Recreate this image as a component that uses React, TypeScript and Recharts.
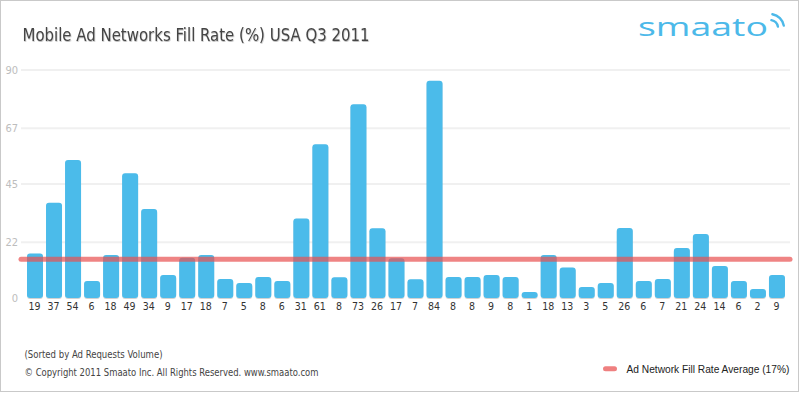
import React from "react";
import { BarChart, Bar, XAxis, YAxis, CartesianGrid, ReferenceLine } from "recharts";

const networkLabels = [
  "19", "37", "54", "6", "18", "49", "34", "9", "17", "18",
  "7", "5", "8", "6", "31", "61", "8", "73", "26", "17",
  "7", "84", "8", "8", "9", "8", "1", "18", "13", "3",
  "5", "26", "6", "7", "21", "24", "14", "6", "2", "9",
];

const fillRates = [
  17.6, 37.6, 54.5, 6.7, 17.0, 49.2, 35.1, 9.1, 15.9, 17.0,
  7.5, 5.9, 8.3, 6.7, 31.4, 60.7, 8.2, 76.5, 27.5, 15.7,
  7.4, 85.8, 8.3, 8.3, 9.1, 8.3, 2.4, 17.0, 12.0, 4.3,
  5.9, 27.6, 6.7, 7.5, 19.7, 25.3, 12.6, 6.7, 3.6, 9.1,
];

const yTicks = [0, 22, 45, 67, 90];
const gridValues = [22, 45, 67, 90];
const averageLine = 15.3;

const data = networkLabels.map((label, i) => ({ label, value: fillRates[i] }));

const NARROW = "'Liberation Sans Narrow', 'DejaVu Sans Condensed', 'Liberation Sans', sans-serif";

const BarShape = (props: any) => {
  const { x, y, width, height } = props;
  if (!height || height <= 0) return null;
  const r = Math.min(3, height / 2);
  return (
    <rect
      x={x}
      y={y}
      width={width}
      height={height}
      rx={r}
      ry={r}
      fill="#4bbbea"
      filter="url(#barShadow)"
    />
  );
};

const AvgLine = (props: any) => {
  const { x1, x2, y1, y2 } = props;
  return (
    <line
      x1={Math.min(x1, x2)}
      x2={Math.max(x1, x2)}
      y1={y1}
      y2={y2}
      stroke="#e85050"
      strokeOpacity={0.7}
      strokeWidth={5}
      strokeLinecap="round"
    />
  );
};

export default function App() {
  return (
    <div
      style={{
        position: "fixed",
        left: 0,
        top: 0,
        width: 800,
        height: 393,
        background: "#fff",
        overflow: "hidden",
      }}
    >
      <svg width={800} height={393} style={{ position: "absolute", left: 0, top: 0 }}>
        <defs>
          <filter id="barShadow" x="-20%" y="-5%" width="140%" height="115%">
            <feDropShadow dx="0" dy="0.8" stdDeviation="0.6" floodColor="#000" floodOpacity="0.22" />
          </filter>
          <filter id="titleShadow" x="-5%" y="-20%" width="110%" height="150%">
            <feDropShadow dx="0.5" dy="1" stdDeviation="0.7" floodColor="#000" floodOpacity="0.25" />
          </filter>
        </defs>
        <rect x={0.5} y={0.5} width={798} height={391} fill="#fff" stroke="#c9c9c9" strokeWidth={1} />
      </svg>
      <div style={{ position: "absolute", left: 0, top: 0 }}>
        <BarChart
          width={800}
          height={393}
          data={data}
          margin={{ top: 70, right: 10, bottom: 0, left: 0 }}
        >
          <CartesianGrid
            vertical={false}
            horizontalValues={gridValues}
            stroke="#f0f0f0"
            strokeWidth={2}
          />
          <XAxis
            dataKey="label"
            height={95}
            padding={{ left: 4, right: 4 }}
            axisLine={false}
            tickLine={false}
            tickSize={0}
            tickMargin={5}
            interval={0}
            tick={{ fontSize: 10.5, fill: "#333", fontFamily: NARROW }}
          />
          <YAxis
            type="number"
            domain={[0, 90]}
            ticks={yTicks}
            width={21}
            axisLine={false}
            tickLine={false}
            tickSize={0}
            tickMargin={3}
            tick={{ fontSize: 11, fill: "#bdbdbd", fontFamily: NARROW }}
          />
          <Bar dataKey="value" barSize={16} shape={<BarShape />} isAnimationActive={false} />
          <ReferenceLine y={averageLine} shape={<AvgLine />} />
        </BarChart>
      </div>
      <svg
        width={800}
        height={393}
        style={{ position: "absolute", left: 0, top: 0, pointerEvents: "none" }}
      >
        <text
          x={22.5}
          y={41}
          fontFamily={NARROW}
          fontSize={18}
          fill="#454545"
          textLength={347}
          lengthAdjust="spacingAndGlyphs"
          filter="url(#titleShadow)"
        >
          Mobile Ad Networks Fill Rate (%) USA Q3 2011
        </text>
        <text
          x={638}
          y={36}
          fontFamily="'Open Sans', Lato, sans-serif"
          fontSize={25}
          fill="#4cb9e9"
          textLength={130}
          lengthAdjust="spacingAndGlyphs"
        >
          smaato
        </text>
        <path
          d="M 771.4 20.1 A 8 8 0 0 1 777.9 26.6"
          fill="none"
          stroke="#4cb9e9"
          strokeWidth={2.4}
          strokeLinecap="round"
        />
        <path
          d="M 772.4 14.2 A 14 14 0 0 1 783.8 25.6"
          fill="none"
          stroke="#4cb9e9"
          strokeWidth={2.4}
          strokeLinecap="round"
        />
        <text x={24.5} y={358} fontFamily={NARROW} fontSize={10.5} fill="#444" textLength={138} lengthAdjust="spacingAndGlyphs">
          (Sorted by Ad Requests Volume)
        </text>
        <text x={24.5} y={376} fontFamily={NARROW} fontSize={10.5} fill="#444" textLength={294} lengthAdjust="spacingAndGlyphs">
          © Copyright 2011 Smaato Inc. All Rights Reserved. www.smaato.com
        </text>
        <rect x={603} y={366.3} width={14} height={5} rx={2.5} fill="#ef8080" />
        <text
          x={626.5}
          y={372.5}
          fontFamily="'Liberation Sans', Arial, sans-serif"
          fontSize={10.2}
          fill="#222"
        >
          Ad Network Fill Rate Average (17%)
        </text>
      </svg>
    </div>
  );
}
